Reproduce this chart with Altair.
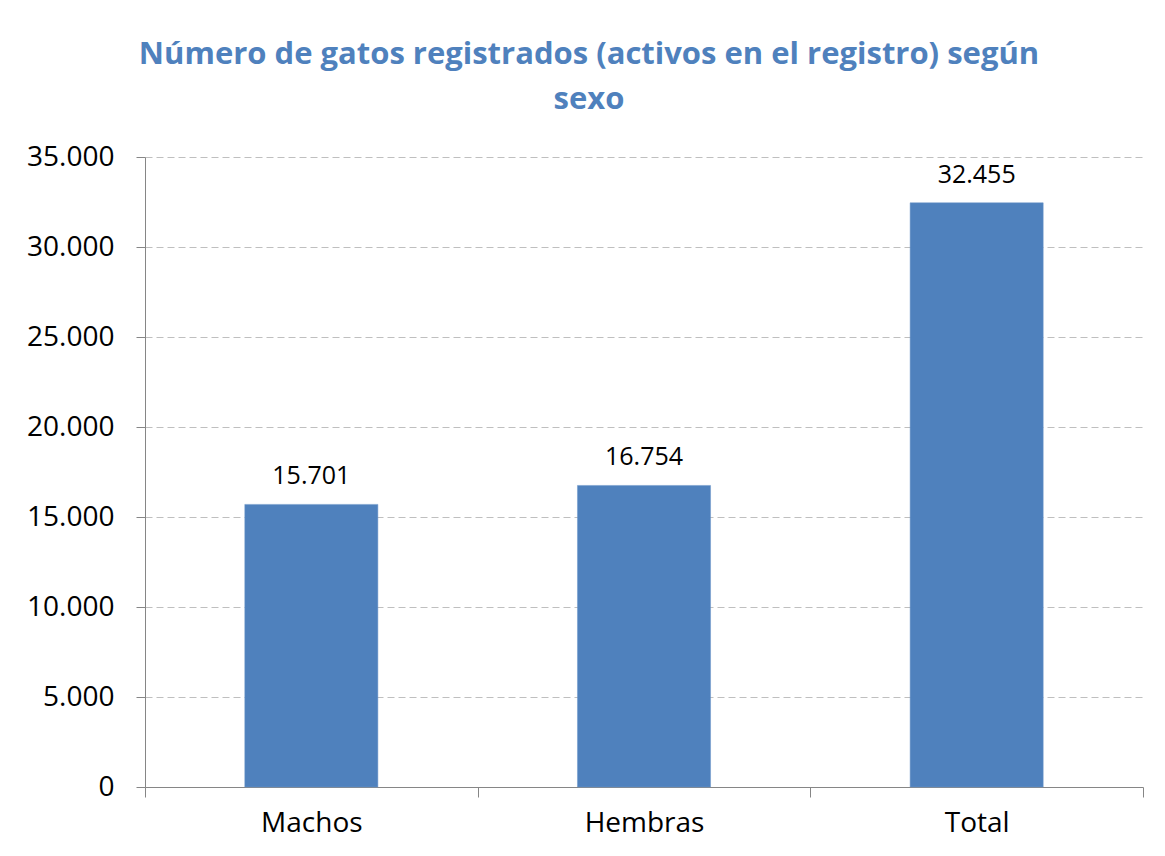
import altair as alt
import pandas as pd

categories = ["Machos", "Hembras", "Total"]
values = [15701, 16754, 32455]
title_lines = ["Número de gatos registrados (activos en el registro) según", "sexo"]

df = pd.DataFrame({"categoria": categories, "valor": values})

FONT = "Open Sans"
BLUE = "#4F81BD"
GRAY = "#868686"

base = alt.Chart(df).transform_calculate(
    etiqueta="replace(format(datum.valor, ','), ',', '.')"
)

x = alt.X(
    "categoria:N",
    sort=categories,
    title=None,
    scale=alt.Scale(paddingInner=0, paddingOuter=0),
    axis=alt.Axis(
        tickBand="extent",
        labelAngle=0,
        labelFontSize=28,
        labelFont=FONT,
        labelColor="#000000",
        labelPadding=12,
        tickSize=10,
        tickColor=GRAY,
        domainColor=GRAY,
        grid=False,
    ),
)

y = alt.Y(
    "valor:Q",
    title=None,
    scale=alt.Scale(domain=[0, 35000], nice=False),
    axis=alt.Axis(
        values=[0, 5000, 10000, 15000, 20000, 25000, 30000, 35000],
        labelExpr="replace(format(datum.value, ','), ',', '.')",
        labelFontSize=28,
        labelFont=FONT,
        labelColor="#000000",
        labelPadding=22,
        tickSize=9,
        tickColor=GRAY,
        domainColor=GRAY,
        gridColor="#BFBFBF",
        gridDash=[7, 4],
        gridWidth=1,
    ),
)

bars = base.mark_bar(
    color=BLUE, stroke="#6A95C9", strokeWidth=0.5, width=alt.RelativeBandSize(0.4)
).encode(x=x, y=y)

labels = base.mark_text(
    baseline="alphabetic", dy=-20, fontSize=25, font=FONT, color="#000000"
).encode(x=x, y=y, text="etiqueta:N")

chart = (
    (bars + labels)
    .properties(
        width=998,
        height=630,
        title=alt.TitleParams(
            text=title_lines,
            font=FONT,
            fontSize=31,
            fontWeight="bold",
            color=BLUE,
            anchor="middle",
            lineHeight=45,
            dx=-55,
            offset=27,
        ),
        autosize=alt.AutoSizeParams(type="none"),
        padding={"left": 137, "top": 149, "right": 14, "bottom": 55},
    )
    .configure_view(stroke=None)
)

chart.save("out.html", embed_options={"renderer": "svg", "actions": False})
